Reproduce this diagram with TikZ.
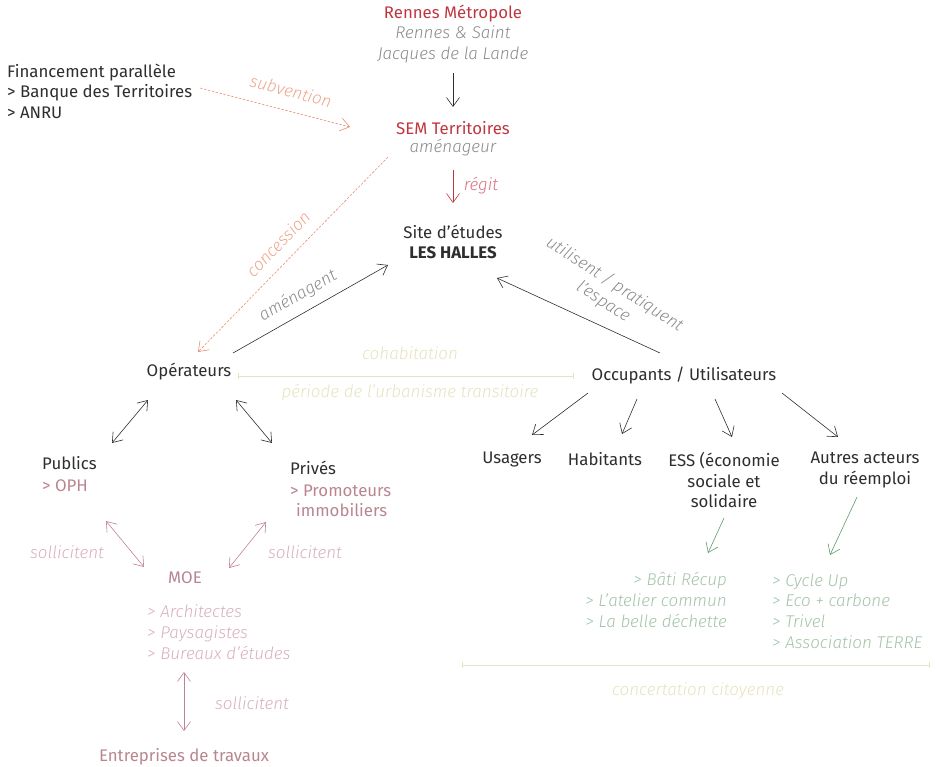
\documentclass[tikz,border=0pt]{standalone}
\usepackage{fontspec}
\setmainfont{Fira Sans}[ItalicFont={Fira Sans Light Italic}]
\usetikzlibrary{arrows.meta}
\definecolor{txt}{HTML}{2E2E2E}
\definecolor{redt}{HTML}{C0363F}
\definecolor{grayit}{HTML}{8A8A8A}
\definecolor{regitc}{HTML}{D9707F}
\definecolor{orangec}{HTML}{E8906F}
\definecolor{pinka}{HTML}{BF8290}
\definecolor{pinkt}{HTML}{B88590}
\definecolor{pinkl}{HTML}{D8B0BA}
\definecolor{greena}{HTML}{5E9A6A}
\definecolor{greenl}{HTML}{A3C3A8}
\definecolor{yel}{HTML}{E6E3BE}
\begin{document}
\begin{tikzpicture}[x=1pt,y=-1pt,
  base/.style={inner sep=0pt,font=\fontsize{16.8}{20.5}\selectfont,text=txt},
  lbl/.style={base,font=\fontsize{17}{20.8}\selectfont\itshape},
  arr/.style={-{Straight Barb[length=9pt,width=13pt]},line width=0.6pt},
  darr/.style={{Straight Barb[length=9pt,width=13pt]}-{Straight Barb[length=9pt,width=13pt]},line width=0.6pt},
  dsh/.style={arr,dash pattern=on 2.5pt off 1.5pt},
  bar/.style={{Bar[width=6pt]}-{Bar[width=6pt]},line width=0.7pt,draw=yel}]
\useasboundingbox (0,0) rectangle (939,767);
% nodes
\node[base,text=redt] (rm) at (453,14) {Rennes Métropole};
\node[lbl,text=grayit,align=center] (rm2) at (453,44.5) {Rennes \& Saint\\Jacques de la Lande};
\node[base,text=redt] (sem) at (453,128) {SEM Territoires};
\node[lbl,text=grayit] (semit) at (453,148) {aménageur};
\node[base,align=center] (site) at (453,242) {Site d’études\\\textbf{LES HALLES}};
\node[base,align=left,anchor=west] (fin) at (7,91) {Financement parallèle\\> Banque des Territoires\\> ANRU};
\node[base] (op) at (189,372) {Opérateurs};
\node[base] (occ) at (684,376) {Occupants / Utilisateurs};
\node[base,anchor=west] (pub) at (42,463) {Publics};
\node[base,anchor=west,text=pinkt] (oph) at (42,486) {> OPH};
\node[base,anchor=west] (priv) at (290,468) {Privés};
\node[base,anchor=west,align=left,text=pinkt] (prom) at (290,501) {> Promoteurs\\\hspace*{6pt}immobiliers};
\node[base,text=pinkt] (moe) at (185,578) {MOE};
\node[lbl,text=pinkl,anchor=west,align=left] (moel) at (147,632) {> Architectes\\> Paysagistes\\> Bureaux d’études};
\node[base,text=pinkt] (ent) at (184,757) {Entreprises de travaux};
\node[base] (usa) at (512,459) {Usagers};
\node[base] (hab) at (605,459) {Habitants};
\node[base,align=center] (ess) at (724,480) {ESS (économie\\sociale et\\solidaire};
\node[base,align=center] (aut) at (865,470) {Autres acteurs\\du réemploi};
\node[lbl,text=greenl,anchor=east,align=right] (essl) at (727,600) {> Bâti Récup\\> L’atelier commun\\> La belle déchette};
\node[lbl,text=greenl,anchor=west,align=left] (autl) at (772,611) {> Cycle Up\\> Eco + carbone\\> Trivel\\> Association TERRE};
% labels
\node[lbl,text=regitc] (lregit) at (481,186) {régit};
\node[lbl,text=orangec!80,rotate=-14.6] (lsub) at (291,91) {subvention};
\node[lbl,text=orangec!80,rotate=45.7] (lcon) at (278,244) {concession};
\node[lbl,text=grayit,rotate=29.6] (lam) at (298,296) {aménagent};
\node[lbl,text=grayit,rotate=-33,align=center] (lut) at (609,293) {utilisent / pratiquent\\l’espace};
\node[lbl,text=yel] (lcoh) at (410,353) {cohabitation};
\node[lbl,text=yel] (lper) at (410,393) {période de l’urbanisme transitoire};
\node[lbl,text=pinkl] (ls1) at (67,552) {sollicitent};
\node[lbl,text=pinkl] (ls2) at (305,552) {sollicitent};
\node[lbl,text=pinkl] (ls3) at (252,703) {sollicitent};
\node[lbl,text=yel] (lconc) at (698,691) {concertation citoyenne};
% coordinates for connector ends
\coordinate (a1s) at (453,73); \coordinate (a1e) at (453,107);
\coordinate (a2s) at (453,170); \coordinate (a2e) at (453,203);
\coordinate (subs) at (200,88); \coordinate (sube) at (350,127);
\coordinate (cons) at (388,157); \coordinate (cone) at (198,352);
\coordinate (ams) at (233,353); \coordinate (ame) at (388,265);
\coordinate (uts) at (660,353); \coordinate (ute) at (497,278);
\coordinate (op1) at (148,400); \coordinate (pub1) at (112,443);
\coordinate (op2) at (236,400); \coordinate (priv1) at (272,443);
\coordinate (pub2) at (106,521); \coordinate (moe1) at (144,567);
\coordinate (priv2) at (266,522); \coordinate (moe2) at (229,568);
\coordinate (moe3) at (184,672); \coordinate (ent1) at (184,731);
\coordinate (oc1) at (588,393); \coordinate (usa1) at (532,435);
\coordinate (oc2) at (637,399); \coordinate (hab1) at (622,434);
\coordinate (oc3) at (715,399); \coordinate (ess1) at (732,437);
\coordinate (oc4) at (782,393); \coordinate (aut1) at (838,437);
\coordinate (ess2) at (724,518); \coordinate (essl1) at (708,553);
\coordinate (aut2) at (857,497); \coordinate (autl1) at (830,555);
\coordinate (cohs) at (238,376); \coordinate (cohe) at (574,376);
\coordinate (cncs) at (462,665); \coordinate (cnce) at (930,665);
% connectors
\draw[arr,draw=txt] (a1s) -- (a1e);
\draw[arr,draw=redt] (a2s) -- (a2e);
\draw[dsh,draw=orangec] (subs) -- (sube);
\draw[dsh,draw=orangec] (cons) -- (cone);
\draw[arr,draw=txt] (ams) -- (ame);
\draw[arr,draw=txt] (uts) -- (ute);
\draw[darr,draw=txt] (op1) -- (pub1);
\draw[darr,draw=txt] (op2) -- (priv1);
\draw[darr,draw=pinka] (pub2) -- (moe1);
\draw[darr,draw=pinka] (priv2) -- (moe2);
\draw[darr,draw=pinka] (moe3) -- (ent1);
\draw[arr,draw=txt] (oc1) -- (usa1);
\draw[arr,draw=txt] (oc2) -- (hab1);
\draw[arr,draw=txt] (oc3) -- (ess1);
\draw[arr,draw=txt] (oc4) -- (aut1);
\draw[arr,draw=greena] (ess2) -- (essl1);
\draw[arr,draw=greena] (aut2) -- (autl1);
\draw[bar] (cohs) -- (cohe);
\draw[bar] (cncs) -- (cnce);
\end{tikzpicture}
\end{document}
